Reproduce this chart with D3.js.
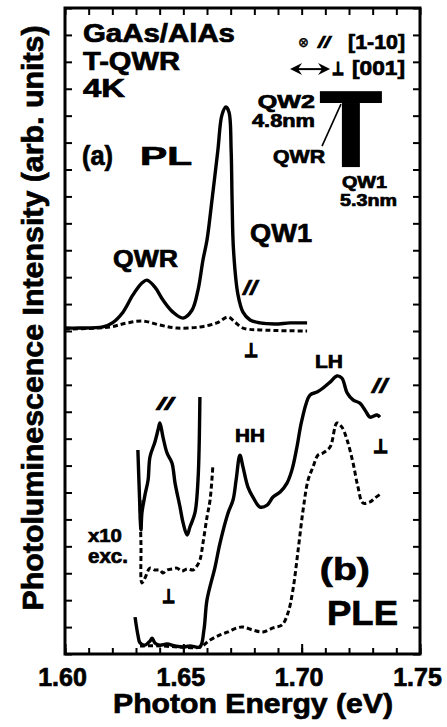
<!DOCTYPE html>
<html><head><meta charset="utf-8">
<script src="https://cdn.jsdelivr.net/npm/d3@7"></script>
<style>
html,body{margin:0;padding:0;background:#fff;}
svg{display:block;}
text{font-family:"Liberation Sans",Arial,sans-serif;font-weight:bold;fill:#000;stroke:#000;stroke-width:0.7px;}
</style></head><body>
<svg id="c" width="447" height="727"></svg>
<script>
// ---------- data ----------
const xMajor = [1.60, 1.65, 1.70, 1.75];
const xTickLabels = ["1.60", "1.65", "1.70", "1.75"];
const xMinor = d3.range(160, 176).map(v => v / 100);
const yTicks = d3.range(0, 25);

// (a) PL, parallel polarisation (solid)
const plPar = [[1.600,12.11],[1.606,12.11],[1.616,12.15],[1.620,12.30],[1.6245,12.70],[1.6287,13.34],
  [1.6325,13.78],[1.6346,13.89],[1.6380,13.63],[1.6414,13.15],[1.6456,12.70],[1.6499,12.48],
  [1.6537,12.78],[1.6562,13.52],[1.6583,14.64],[1.6600,15.38],[1.6621,16.86],[1.6646,18.72],
  [1.6663,20.02],[1.6680,20.32],[1.6693,20.13],[1.6702,18.72],[1.6706,16.86],[1.6712,15.01],
  [1.6731,13.34],[1.6752,12.70],[1.6782,12.41],[1.6824,12.30],[1.6887,12.26],[1.6951,12.30],[1.7023,12.30]];
// (a) PL, perpendicular polarisation (dashed)
const plPerp = [[1.600,12.07],[1.619,12.15],[1.6262,12.30],[1.6330,12.37],[1.6401,12.22],[1.6473,12.11],
  [1.6570,12.15],[1.6642,12.30],[1.6689,12.52],[1.6718,12.33],[1.6752,12.11],[1.6824,12.04],[1.7023,12.00]];
// (b) PLE, parallel (solid)
const plePar = [[1.6296,1.37],[1.6308,0.71],[1.6317,0.41],[1.6338,0.33],[1.6359,0.48],[1.6368,0.59],
  [1.6380,0.41],[1.6401,0.33],[1.6431,0.37],[1.6465,0.30],[1.6499,0.26],[1.6528,0.30],[1.6570,0.26],
  [1.6587,0.89],[1.6600,2.01],[1.6634,3.23],[1.6655,4.12],[1.6689,5.24],[1.6710,5.72],[1.6723,6.46],
  [1.6739,7.39],[1.6752,6.95],[1.6773,6.20],[1.6794,5.83],[1.6824,5.46],[1.6854,5.53],[1.6879,5.83],
  [1.6909,6.02],[1.6938,6.35],[1.6959,6.84],[1.6980,7.69],[1.7001,8.69],[1.7035,9.62],[1.7065,9.73],
  [1.7090,9.88],[1.7120,10.10],[1.7149,10.33],[1.7170,10.25],[1.7192,9.70],[1.7217,9.44],[1.7246,9.32],
  [1.7268,9.06],[1.7289,8.80],[1.7318,8.88],[1.7331,8.80]];
// (b) PLE, perpendicular (dashed)
const plePerp = [[1.6317,0.30],[1.6401,0.30],[1.6486,0.26],[1.6570,0.26],[1.6613,0.52],[1.6655,0.71],
  [1.6689,0.82],[1.6727,0.97],[1.6752,1.00],[1.6794,0.89],[1.6837,0.82],[1.6879,0.97],[1.6917,1.08],
  [1.6942,1.52],[1.6963,2.38],[1.6985,3.86],[1.7006,5.35],[1.7027,6.46],[1.7048,6.95],[1.7069,7.39],
  [1.7090,7.47],[1.7120,7.69],[1.7149,8.58],[1.7170,8.43],[1.7192,7.95],[1.7217,7.10],[1.7238,6.20],
  [1.7259,5.61],[1.7289,5.65],[1.7310,5.80],[1.7339,5.98]];
// x10 excitation traces
const pleParX10 = [[1.6308,7.58],[1.6313,6.28],[1.6321,4.61],[1.6325,5.24],[1.6338,5.91],[1.6351,6.46],
  [1.6359,7.32],[1.6380,7.88],[1.6393,8.32],[1.6401,8.58],[1.6414,8.06],[1.6431,7.47],[1.6452,7.10],
  [1.6465,6.35],[1.6486,5.46],[1.6499,4.87],[1.6516,4.42],[1.6528,4.72],[1.6549,5.24],[1.6562,6.46],[1.6570,9.55]];
const plePerpX10 = [[1.6317,5.72],[1.6321,4.05],[1.6325,2.64],[1.6338,2.82],[1.6359,3.19],[1.6380,3.12],
  [1.6401,3.12],[1.6414,3.01],[1.6431,3.12],[1.6452,3.16],[1.6473,3.19],[1.6494,3.08],[1.6516,3.16],
  [1.6541,3.12],[1.6554,3.23],[1.6570,3.49],[1.6583,4.12],[1.6600,5.09],[1.6613,5.72],[1.6625,7.02]];

// annotation texts (data coordinates)
const labels = [
  {t:"GaAs/AlAs", e:1.6076, v:22.73, fs:25, w:152},
  {t:"T-QWR",     e:1.6076, v:21.69, fs:25, w:97},
  {t:"4K",        e:1.6076, v:20.69, fs:25, w:42},
  {t:"(a)",       e:1.6072, v:18.16, fs:27, w:31},
  {t:"PL",        e:1.6317, v:18.16, fs:25, w:52},
  {t:"QW1",       e:1.6782, v:15.30, fs:26, w:62},
  {t:"QWR",       e:1.6203, v:14.38, fs:24, w:65},
  {t:"//",        e:1.6752, v:13.34, fs:20, w:14, it:1},
  {t:"\u22A5",    e:1.6756, v:11.03, fs:19, w:14, sym:1},
  {t:"\u2297",    e:1.6985, v:22.55, fs:14, w:11, sym:2},
  {t:"//",        e:1.7069, v:22.51, fs:17, w:12, it:1},
  {t:"[1-10]",    e:1.7196, v:22.47, fs:20, w:57},
  {t:"\u22A5",    e:1.7128, v:21.51, fs:18, w:12, sym:1},
  {t:"[001]",     e:1.7213, v:21.51, fs:20, w:53},
  {t:"QW2",       e:1.6815, v:20.28, fs:18, w:57},
  {t:"4.8nm",     e:1.6790, v:19.58, fs:18, w:63},
  {t:"QWR",       e:1.6879, v:18.24, fs:18, w:52},
  {t:"QW1",       e:1.7170, v:17.31, fs:16, w:45},
  {t:"5.3nm",     e:1.7162, v:16.64, fs:16, w:57},
  {t:"//",        e:1.6389, v:9.06,  fs:18, w:16, it:1},
  {t:"HH",        e:1.6718, v:7.88,  fs:19, w:30},
  {t:"LH",        e:1.7056, v:10.62, fs:18, w:28},
  {t:"//",        e:1.7297, v:9.70,  fs:20, w:15, it:1},
  {t:"\u22A5",    e:1.7301, v:7.47,  fs:19, w:15, sym:1},
  {t:"x10",       e:1.6097, v:4.16,  fs:19, w:34},
  {t:"exc.",      e:1.6097, v:3.38,  fs:20, w:40},
  {t:"\u22A5",    e:1.6410, v:1.89,  fs:19, w:13, sym:1},
  {t:"(b)",       e:1.7077, v:2.75,  fs:32, w:50},
  {t:"PLE",       e:1.7107, v:1.08,  fs:35, w:71}
];

// ---------- drawing ----------
const svg = d3.select("#c");
const x = d3.scaleLinear().domain([1.60, 1.75]).range([65, 420]);
const y = d3.scaleLinear().domain([0, 24]).range([654, 8]);

function styleAxis(g) {
  g.select(".domain").remove();
  g.selectAll(".tick line").attr("stroke", "#000").attr("stroke-width", 2);
}
svg.append("g").attr("transform", "translate(0,654)")
  .call(d3.axisBottom(x).tickValues(xMinor).tickSize(-6).tickFormat("")).call(styleAxis);
const bx = svg.append("g").attr("transform", "translate(0,654)")
  .call(d3.axisBottom(x).tickValues(xMajor).tickSize(-10).tickPadding(14)
    .tickFormat((d, i) => xTickLabels[i])).call(styleAxis);
bx.attr("font-family", null).attr("font-size", null);
bx.selectAll("text").attr("font-size", 25).attr("dx", -3)
  .style("font-family", '"Liberation Sans",Arial,sans-serif').style("font-weight", "bold");
svg.append("g").attr("transform", "translate(0,8)")
  .call(d3.axisTop(x).tickValues(xMinor).tickSize(-7).tickFormat("")).call(styleAxis);
svg.append("g").attr("transform", "translate(65,0)")
  .call(d3.axisLeft(y).tickValues(yTicks).tickSize(-7).tickFormat("")).call(styleAxis);
svg.append("g").attr("transform", "translate(420,0)")
  .call(d3.axisRight(y).tickValues(yTicks).tickSize(-7).tickFormat("")).call(styleAxis);

svg.append("rect").attr("x", x(1.60)).attr("y", y(24))
  .attr("width", x(1.75) - x(1.60)).attr("height", y(0) - y(24))
  .attr("fill", "none").attr("stroke", "#000").attr("stroke-width", 3);

const line = d3.line().x(d => x(d[0])).y(d => y(d[1])).curve(d3.curveCatmullRom.alpha(0.5));
function draw(data, dashed) {
  svg.append("path").datum(data).attr("d", line).attr("fill", "none")
    .attr("stroke", "#000").attr("stroke-width", dashed ? 3 : 3.4)
    .attr("stroke-linejoin", "round")
    .attr("stroke-dasharray", dashed ? "5,3" : null);
}
draw(plPerp, true);
draw(plPar, false);
draw(plePerp, true);
draw(plePar, false);
draw(plePerpX10, true);
draw(pleParX10, false);

// T-shaped schematic
svg.append("rect").attr("x", x(1.7077)).attr("y", y(20.91))
  .attr("width", x(1.7339) - x(1.7077)).attr("height", y(20.47) - y(20.91)).attr("fill", "#000");
svg.append("rect").attr("x", x(1.7170)).attr("y", y(20.47))
  .attr("width", x(1.7246) - x(1.7170)).attr("height", y(18.09) - y(20.47)).attr("fill", "#000");
svg.append("line").attr("x1", x(1.7086)).attr("y1", y(18.87)).attr("x2", x(1.7166)).attr("y2", y(20.43))
  .attr("stroke", "#000").attr("stroke-width", 1.6);

// double arrow
const ay = y(21.73), ax1 = x(1.6951), ax2 = x(1.7120);
svg.append("line").attr("x1", ax1 + 6).attr("y1", ay).attr("x2", ax2 - 6).attr("y2", ay)
  .attr("stroke", "#000").attr("stroke-width", 2);
svg.append("path").attr("d", `M${ax1},${ay} L${ax1 + 12},${ay - 6} L${ax1 + 8},${ay} L${ax1 + 12},${ay + 6} Z`).attr("fill", "#000");
svg.append("path").attr("d", `M${ax2},${ay} L${ax2 - 12},${ay - 6} L${ax2 - 8},${ay} L${ax2 - 12},${ay + 6} Z`).attr("fill", "#000");

// labels
svg.selectAll("text.lab").data(labels).enter().append("text").attr("class", "lab")
  .attr("x", d => x(d.e)).attr("y", d => y(d.v))
  .attr("font-size", d => d.fs)
  .attr("textLength", d => d.w).attr("lengthAdjust", "spacingAndGlyphs")
  .style("font-family", d => d.sym ? '"DejaVu Sans",sans-serif' : null)
  .style("stroke-width", d => d.sym === 1 ? "1.6px" : d.sym === 2 ? "0.2px" : null)
  .style("font-style", d => d.it ? "italic" : null)
  .text(d => d.t);

// axis titles
svg.append("text").attr("x", 253).attr("y", 713).attr("text-anchor", "middle")
  .attr("font-size", 28).attr("textLength", 280).attr("lengthAdjust", "spacingAndGlyphs")
  .text("Photon Energy (eV)");
svg.append("text").attr("transform", "translate(43,318) rotate(-90)").attr("text-anchor", "middle")
  .attr("font-size", 29).attr("textLength", 585).attr("lengthAdjust", "spacingAndGlyphs")
  .text("Photoluminescence Intensity (arb. units)");
</script>
</body></html>
